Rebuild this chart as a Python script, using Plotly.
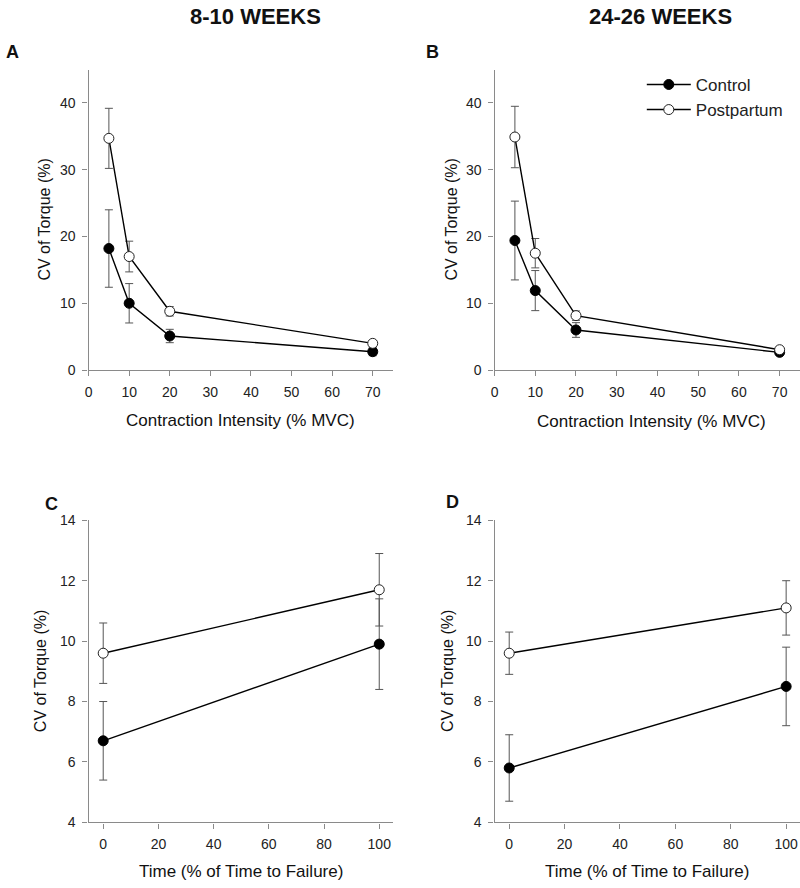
import plotly.graph_objects as go

# ---- data ----
intensity = [5, 10, 20, 70]
a_control = [18.2, 10.0, 5.1, 2.75]
a_control_err = [5.8, 2.95, 1.0, 0.6]
a_post = [34.7, 17.0, 8.8, 4.0]
a_post_err = [4.5, 2.3, 0.7, 0.3]

b_control = [19.4, 11.9, 6.0, 2.65]
b_control_err = [5.9, 3.0, 1.1, 0.3]
b_post = [34.9, 17.5, 8.15, 3.05]
b_post_err = [4.6, 2.2, 0.7, 0.3]

time_pct = [0, 100]
c_control = [6.7, 9.9]
c_control_err = [1.3, 1.5]
c_post = [9.6, 11.7]
c_post_err = [1.0, 1.2]

d_control = [5.8, 8.5]
d_control_err = [1.1, 1.3]
d_post = [9.6, 11.1]
d_post_err = [0.7, 0.9]

# ---- style ----
FONT = "Liberation Sans, Arial, sans-serif"
AXC = "#8a8a8a"
ERRC = "#555555"
W, H = 800, 888

def fx(p):
    return p / W

def fy(p):
    return 1 - p / H

fig = go.Figure()

def add_pair(xv, ctrl, ctrl_err, post, post_err, xa, ya, legend):
    fig.add_trace(go.Scatter(
        x=xv, y=ctrl, mode="lines+markers", name="Control",
        error_y=dict(type="data", array=ctrl_err, color=ERRC, thickness=1, width=4),
        line=dict(color="black", width=1.4),
        marker=dict(symbol="circle", size=10, color="black", line=dict(color="black", width=1)),
        xaxis=xa, yaxis=ya, showlegend=legend))
    fig.add_trace(go.Scatter(
        x=xv, y=post, mode="lines+markers", name="Postpartum",
        error_y=dict(type="data", array=post_err, color=ERRC, thickness=1, width=4),
        line=dict(color="black", width=1.4),
        marker=dict(symbol="circle", size=10, color="white", line=dict(color="#222", width=1)),
        xaxis=xa, yaxis=ya, showlegend=legend))

add_pair(intensity, a_control, a_control_err, a_post, a_post_err, "x", "y", False)
add_pair(intensity, b_control, b_control_err, b_post, b_post_err, "x2", "y2", True)
add_pair(time_pct, c_control, c_control_err, c_post, c_post_err, "x3", "y3", False)
add_pair(time_pct, d_control, d_control_err, d_post, d_post_err, "x4", "y4", False)

left_dom = [fx(85), fx(391)]
right_dom = [fx(493), fx(800)]
top_dom = [fy(368.7), fy(62.7)]
bot_dom = [fy(829.3), fy(521.7)]

def axis(dom, rng, dtick, anchor):
    return dict(domain=dom, range=rng, dtick=dtick, tick0=0, anchor=anchor,
                showline=True, linecolor=AXC, linewidth=1.3, ticks="outside",
                ticklen=5, tickcolor=AXC, tickwidth=1.2, showgrid=False, zeroline=False,
                ticklabelstandoff=4,
                tickfont=dict(family=FONT, size=14, color="#222"))

fig.update_layout(
    width=W, height=H, margin=dict(l=0, r=0, t=0, b=0),
    paper_bgcolor="white", plot_bgcolor="white",
    xaxis=axis(left_dom, [0, 75], 10, "y"),
    yaxis=axis(top_dom, [0, 45], 10, "x"),
    xaxis2=axis(right_dom, [0, 75], 10, "y2"),
    yaxis2=axis(top_dom, [0, 45], 10, "x2"),
    xaxis3=axis(left_dom, [-5.3, 105], 20, "y3"),
    yaxis3=axis(bot_dom, [4, 14], 2, "x3"),
    xaxis4=axis(right_dom, [-5.3, 105], 20, "y4"),
    yaxis4=axis(bot_dom, [4, 14], 2, "x4"),
    legend=dict(x=fx(641), y=fy(60), xanchor="left", yanchor="top",
                font=dict(family=FONT, size=17, color="#222"),
                itemwidth=44, bgcolor="rgba(0,0,0,0)", tracegroupgap=0),
    showlegend=True,
)

ann = []
def text(x, y, s, size=16, bold=False, angle=0, xanchor="center"):
    ann.append(dict(x=fx(x), y=fy(y), xref="paper", yref="paper", text=(f"<b>{s}</b>" if bold else s),
                    showarrow=False, textangle=angle, xanchor=xanchor, yanchor="middle",
                    font=dict(family=FONT, size=size, color="#111")))

text(253, 9, "8-10 WEEKS", 22, True)
text(660, 9, "24-26 WEEKS", 22, True)
text(9, 45, "A", 18, True)
text(431, 45, "B", 18, True)
text(48, 505, "C", 18, True)
text(451, 503, "D", 18, True)
text(41, 215.7, "CV of Torque (%)", 16, angle=-90)
text(450, 215.7, "CV of Torque (%)", 16, angle=-90)
text(37, 675.5, "CV of Torque (%)", 16, angle=-90)
text(446, 675.5, "CV of Torque (%)", 16, angle=-90)
text(238, 420, "Contraction Intensity (% MVC)", 17)
text(651, 421, "Contraction Intensity (% MVC)", 17)
text(238.5, 879, "Time (% of Time to Failure)", 17)
text(646, 879, "Time (% of Time to Failure)", 17)
fig.update_layout(annotations=ann)

fig.write_html(
    "out.html",
    config={"displayModeBar": False},
    post_script="document.body.style.margin='0';document.body.style.padding='0';"
                "document.body.style.overflow='hidden';"
                "document.documentElement.style.overflow='hidden';",
)
